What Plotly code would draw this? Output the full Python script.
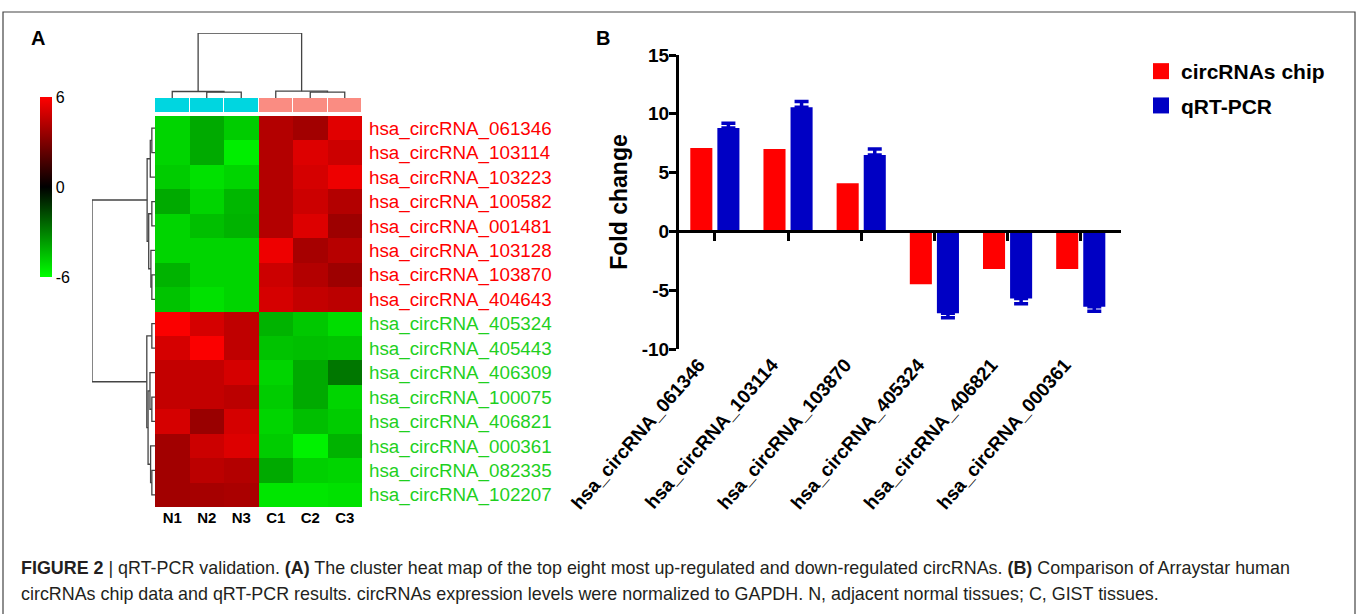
import plotly.graph_objects as go

W, H = 1358, 614
FONT = "Arial, Liberation Sans, sans-serif"

# ---------------- data: heat map (panel A) ----------------
samples = ["N1", "N2", "N3", "C1", "C2", "C3"]
sample_group = [0, 0, 0, 1, 1, 1]          # 0 = normal, 1 = GIST
up_genes = ["hsa_circRNA_061346", "hsa_circRNA_103114", "hsa_circRNA_103223", "hsa_circRNA_100582",
            "hsa_circRNA_001481", "hsa_circRNA_103128", "hsa_circRNA_103870", "hsa_circRNA_404643"]
down_genes = ["hsa_circRNA_405324", "hsa_circRNA_405443", "hsa_circRNA_406309", "hsa_circRNA_100075",
              "hsa_circRNA_406821", "hsa_circRNA_000361", "hsa_circRNA_082335", "hsa_circRNA_102207"]
up_values = [
    [-5.0, -4.0, -4.8, 4.2, 3.8, 5.3],
    [-5.0, -4.0, -5.6, 4.2, 5.2, 4.8],
    [-4.8, -5.3, -5.0, 4.2, 5.0, 5.6],
    [-4.0, -5.0, -4.3, 4.2, 4.8, 4.2],
    [-5.0, -4.5, -4.2, 4.2, 5.2, 3.7],
    [-5.0, -5.0, -5.0, 5.6, 3.9, 4.3],
    [-4.2, -5.0, -5.0, 4.8, 4.2, 3.7],
    [-4.6, -5.3, -5.0, 5.0, 4.6, 4.4],
]
down_values = [
    [5.9, 5.0, 4.5, -4.2, -4.7, -5.2],
    [5.0, 5.9, 4.5, -4.6, -4.5, -4.6],
    [4.6, 4.6, 5.0, -5.0, -4.0, -2.8],
    [4.6, 4.6, 4.4, -4.8, -4.0, -5.0],
    [5.0, 3.6, 5.0, -5.0, -4.5, -4.8],
    [3.8, 4.8, 5.2, -4.8, -5.7, -4.2],
    [3.8, 4.4, 4.2, -4.0, -4.9, -5.0],
    [3.8, 3.9, 4.0, -5.4, -5.4, -5.3],
]
colorbar_ticks = [-6, 0, 6]
colorbar_text = ["-6", "0", "6"]
# dendrogram merges: (child a, child b, height); ids >= n_leaves refer to earlier merges
col_merges = [(1, 2, 0.9), (0, 6, 1.0), (4, 5, 0.9), (3, 8, 1.05), (7, 9, 10.0)]
row_merges = [(0, 1, 1.0), (16, 2, 1.5), (3, 4, 1.0), (6, 7, 1.0), (5, 19, 1.3), (18, 20, 2.0),
              (17, 21, 2.5), (8, 9, 1.0), (11, 12, 1.0), (10, 24, 1.6), (14, 15, 1.0),
              (13, 26, 1.4), (25, 27, 2.2), (23, 28, 2.6), (22, 29, 20.0)]

# ---------------- data: bar chart (panel B) ----------------
bar_genes = ["hsa_circRNA_061346", "hsa_circRNA_103114", "hsa_circRNA_103870",
             "hsa_circRNA_405324", "hsa_circRNA_406821", "hsa_circRNA_000361"]
chip_fc = [7.1, 7.0, 4.1, -4.5, -3.2, -3.2]
qpcr_fc = [8.8, 10.55, 6.5, -6.95, -5.7, -6.4]
qpcr_err = [0.4, 0.5, 0.5, 0.4, 0.45, 0.4]
y_ticks = [-10, -5, 0, 5, 10, 15]
y_tick_text = ["-10", "-5", "0", "5", "10", "15"]
series_names = ["circRNAs chip", "qRT-PCR"]
series_colors = ["#ff0000", "#0000c4"]

caption_1 = ("<b>FIGURE 2</b> | qRT-PCR validation. <b>(A)</b> The cluster heat map of the top eight most "
             "up-regulated and down-regulated circRNAs. <b>(B)</b> Comparison of Arraystar human")
caption_2 = ("circRNAs chip data and qRT-PCR results. circRNAs expression levels were normalized to GAPDH. "
             "N, adjacent normal tissues; C, GIST tissues.")


def px_x(p):
    return p / W


def px_y(p):
    return 1 - p / H


def dendro(n, merges):
    pos = {i: float(i) for i in range(n)}
    hgt = {i: 0.0 for i in range(n)}
    p_list, h_list = [], []
    for k, (a, b, h) in enumerate(merges):
        p_list += [pos[a], pos[a], pos[b], pos[b], None]
        h_list += [hgt[a], h, h, hgt[b], None]
        pos[n + k] = (pos[a] + pos[b]) / 2
        hgt[n + k] = h
    return p_list, h_list


genes = up_genes + down_genes
zvals = up_values + down_values
n_rows = len(genes)

fig = go.Figure()

# ---- heat map ----
fig.add_trace(go.Heatmap(
    z=zvals, x=list(range(len(samples))), y=list(range(n_rows)),
    xaxis="x2", yaxis="y2", zmin=-6, zmax=6,
    colorscale=[[0, "#00ff00"], [0.5, "#000000"], [1, "#ff0000"]],
    hoverinfo="skip",
    colorbar=dict(x=px_x(40), xanchor="left", y=px_y(187), yanchor="middle",
                  thickness=12, thicknessmode="pixels", len=180, lenmode="pixels",
                  xpad=0, ypad=0, outlinewidth=0, tickvals=colorbar_ticks,
                  ticktext=colorbar_text, ticks="",
                  tickfont=dict(family=FONT, size=16, color="black")),
))
# group annotation bar
fig.add_trace(go.Heatmap(
    z=[sample_group], x=list(range(len(samples))), y=[0], xaxis="x5", yaxis="y5",
    zmin=0, zmax=1, colorscale=[[0, "#00d6e0"], [0.5, "#00d6e0"], [0.5, "#fa8c82"], [1, "#fa8c82"]],
    showscale=False, xgap=1, hoverinfo="skip",
))
# dendrograms
cp, ch = dendro(len(samples), col_merges)
fig.add_trace(go.Scatter(x=cp, y=ch, xaxis="x4", yaxis="y4", mode="lines",
                         line=dict(color="#444444", width=1.3), showlegend=False, hoverinfo="skip"))
rp, rh = dendro(n_rows, row_merges)
fig.add_trace(go.Scatter(x=rh, y=rp, xaxis="x6", yaxis="y6", mode="lines",
                         line=dict(color="#444444", width=1.3), showlegend=False, hoverinfo="skip"))

# ---- bar chart ----
fig.add_trace(go.Bar(name=series_names[0], x=bar_genes, y=chip_fc, xaxis="x", yaxis="y",
                     marker=dict(color=series_colors[0], line=dict(width=0)),
                     legendgroup="a", showlegend=False))
fig.add_trace(go.Bar(name=series_names[1], x=bar_genes, y=qpcr_fc, xaxis="x", yaxis="y",
                     marker=dict(color=series_colors[1], line=dict(width=0)),
                     legendgroup="b", showlegend=False,
                     error_y=dict(type="data", symmetric=False,
                                  array=[e if v > 0 else 0 for v, e in zip(qpcr_fc, qpcr_err)],
                                  arrayminus=[e if v < 0 else 0 for v, e in zip(qpcr_fc, qpcr_err)],
                                  color=series_colors[1], thickness=3.5, width=7)))
# legend entries (square swatches)
for name, col, grp in zip(series_names, series_colors, ["a", "b"]):
    fig.add_trace(go.Scatter(x=[None], y=[None], xaxis="x", yaxis="y", mode="markers", name=name,
                             legendgroup=grp,
                             marker=dict(symbol="square", size=16, color=col)))
# invisible trace carrying the zero-level category axis
fig.add_trace(go.Scatter(x=bar_genes, y=[0] * len(bar_genes), xaxis="x3", yaxis="y", mode="markers",
                         marker=dict(opacity=0), showlegend=False, hoverinfo="skip"))

bar_y0, bar_y1 = px_y(349), px_y(55)
yr = [-10, 15]
zero_pos = bar_y0 + (0 - yr[0]) / (yr[1] - yr[0]) * (bar_y1 - bar_y0)
xr = [-0.49, 5.55]

row_text = [f'<span style="color:#ff0000">{g}</span>' for g in up_genes] + \
           [f'<span style="color:#1fd01f">{g}</span>' for g in down_genes]

fig.update_layout(
    template="none",
    width=W, height=H, autosize=False,
    margin=dict(l=0, r=0, t=0, b=0, pad=0),
    paper_bgcolor="white", plot_bgcolor="white",
    font=dict(family=FONT, color="black"),
    barmode="group", bargap=0.26, bargroupgap=0.185,
    showlegend=True,
    legend=dict(x=px_x(1141), y=px_y(51), xanchor="left", yanchor="top",
                font=dict(family=FONT, size=21, weight="bold", color="black"),
                bgcolor="rgba(0,0,0,0)", itemwidth=30, tracegroupgap=4, itemsizing="trace"),
    # bar chart axes
    xaxis=dict(domain=[px_x(679), px_x(1121)], anchor="y", range=xr, showline=False, ticks="",
               showgrid=False, zeroline=False, tickangle=-49, automargin=False,
               ticklabelshift=-16,
               tickfont=dict(family=FONT, size=19, weight="bold")),
    yaxis=dict(domain=[bar_y0, bar_y1], anchor="x", range=yr, tickvals=y_ticks,
               ticktext=y_tick_text, showline=True, ticklabelstandoff=-4,
               linewidth=3, linecolor="black", ticks="outside", ticklen=7, tickwidth=3,
               tickcolor="black", showgrid=False, zeroline=False, automargin=False,
               tickfont=dict(family=FONT, size=19, weight="bold"),
               title=dict(text="Fold change", standoff=8,
                          font=dict(family=FONT, size=23, weight="bold"))),
    xaxis3=dict(overlaying="x", anchor="free", position=zero_pos, range=xr, type="category",
                categoryarray=bar_genes, showline=True, linewidth=3, linecolor="black",
                ticks="outside", ticklen=8, tickwidth=3, tickcolor="black", automargin=False,
                showticklabels=False, showgrid=False, zeroline=False),
    # heat map axes
    xaxis2=dict(domain=[px_x(155), px_x(362)], anchor="y2", range=[-0.5, 5.5], automargin=False,
                tickvals=list(range(len(samples))), ticktext=samples, ticks="", showgrid=False,
                zeroline=False, showline=False,
                tickfont=dict(family=FONT, size=15, weight="bold", color="black")),
    yaxis2=dict(domain=[px_y(507), px_y(116)], anchor="x2", range=[n_rows - 0.5, -0.5],
                tickvals=list(range(n_rows)), ticktext=row_text, side="right", ticks="",
                showgrid=False, zeroline=False, showline=False, automargin=False,
                ticklabelstandoff=6, tickfont=dict(family=FONT, size=18.8)),
    xaxis5=dict(domain=[px_x(155), px_x(362)], anchor="y5", range=[-0.5, 5.5], visible=False),
    yaxis5=dict(domain=[px_y(112), px_y(98)], anchor="x5", range=[-0.5, 0.5], visible=False),
    xaxis4=dict(domain=[px_x(155), px_x(362)], anchor="y4", range=[-0.5, 5.5], visible=False),
    yaxis4=dict(domain=[px_y(98), px_y(33)], anchor="x4", range=[0, 10], visible=False),
    xaxis6=dict(domain=[px_x(92), px_x(155)], anchor="y6", range=[20, 0], visible=False),
    yaxis6=dict(domain=[px_y(507), px_y(116)], anchor="x6", range=[n_rows - 0.5, -0.5],
                visible=False),
    shapes=[dict(type="rect", xref="paper", yref="paper", x0=px_x(3), x1=px_x(1355),
                 y0=-0.05, y1=px_y(12), line=dict(color="#444444", width=1.2))],
    annotations=[
        dict(text="<b>A</b>", x=px_x(38), y=px_y(38), xref="paper", yref="paper",
             showarrow=False, font=dict(family=FONT, size=20, color="black"),
             xanchor="center", yanchor="middle"),
        dict(text="<b>B</b>", x=px_x(603), y=px_y(38), xref="paper", yref="paper",
             showarrow=False, font=dict(family=FONT, size=20, color="black"),
             xanchor="center", yanchor="middle"),
        dict(text=caption_1, x=px_x(19), y=px_y(568), xref="paper", yref="paper", showarrow=False,
             xanchor="left", yanchor="middle", font=dict(family=FONT, size=17.9, color="#231f20")),
        dict(text=caption_2, x=px_x(19), y=px_y(594), xref="paper", yref="paper", showarrow=False,
             xanchor="left", yanchor="middle", font=dict(family=FONT, size=17.9, color="#231f20")),
    ],
)

fig.write_html("out.html", config={"displayModeBar": False},
               post_script="document.body.style.margin='0px';")
